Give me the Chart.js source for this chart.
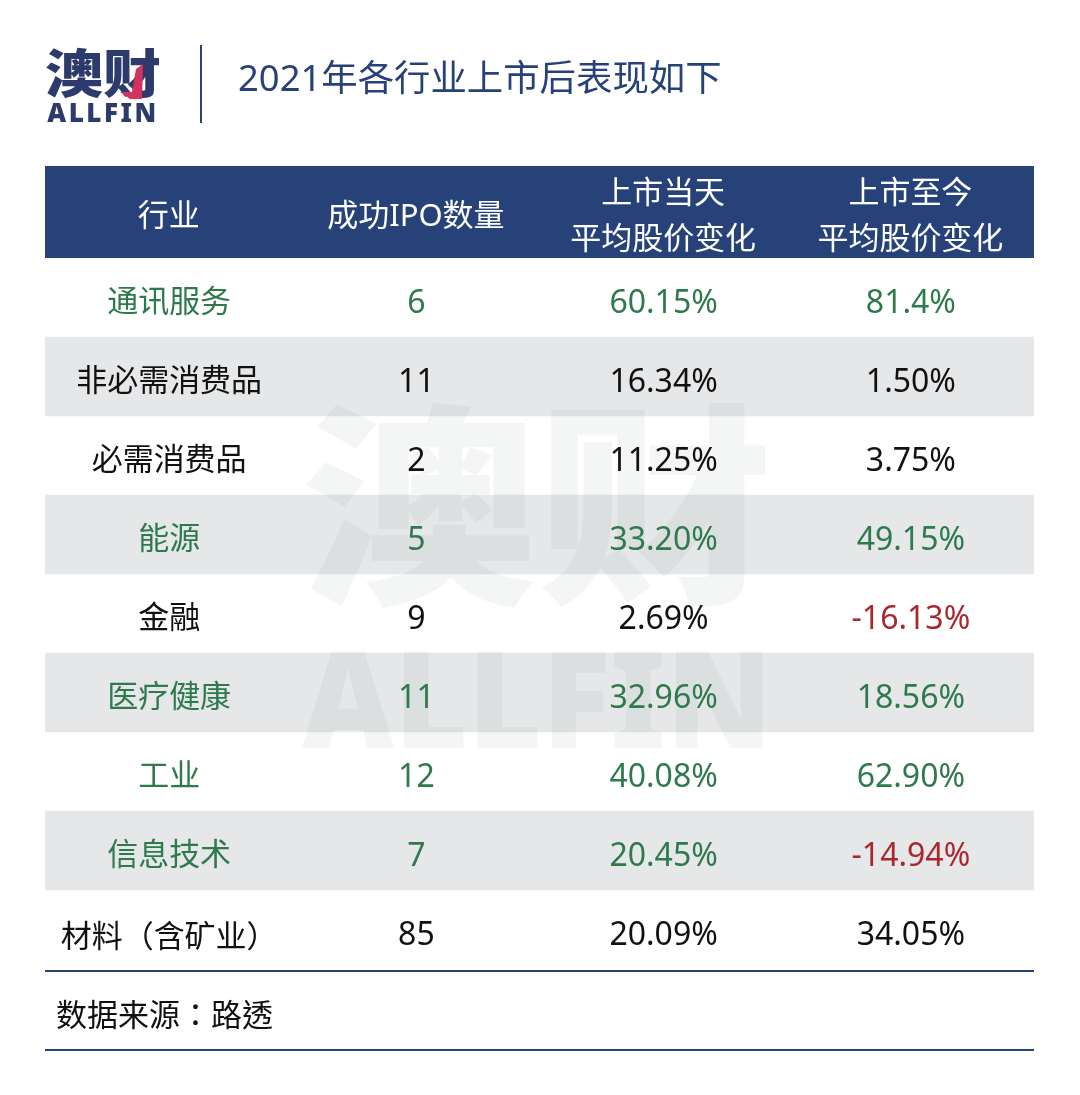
<!DOCTYPE html>
<html>
<head>
<meta charset="utf-8">
<script src="https://cdn.jsdelivr.net/npm/chart.js@4"></script>
<style>
    html, body { margin: 0; padding: 0; background: #fff; }
    canvas { display: block; }
</style>
</head>
<body>
<canvas id="ipoTable" width="1080" height="1095"></canvas>
<script>
// Table data
const industries = ['通讯服务', '非必需消费品', '必需消费品', '能源', '金融', '医疗健康', '工业', '信息技术', '材料（含矿业）'];
const ipoCounts = [6, 11, 2, 5, 9, 11, 12, 7, 85];
const firstDayChange = ['60.15', '16.34', '11.25', '33.20', '2.69', '32.96', '40.08', '20.45', '20.09'];
const toDateChange = ['81.4', '1.50', '3.75', '49.15', '-16.13', '18.56', '62.90', '-14.94', '34.05'];
const highlighted = ['通讯服务', '能源', '医疗健康', '工业', '信息技术'];
const columnLabels = ['行业', '成功IPO数量', ['上市当天', '平均股价变化'], ['上市至今', '平均股价变化']];
const chartTitle = '2021年各行业上市后表现如下';
const sourceNote = '数据来源：路透';

const FONT = '"Noto Sans", "Noto Sans CJK SC", sans-serif';
const CJK_FONT = '"Noto Sans CJK SC", sans-serif';
// TC centres full-width punctuation in its cell, as the reference does
const PUNCT_FONT = '"Noto Sans CJK TC", sans-serif';
const NAVY = '#264278';
const LOGO_NAVY = '#2d3a6c';
const GREEN = '#2f7a4c';
const RED = '#a8282f';
const HEADER_HEIGHT = 92;

function cellColor(row, col) {
    if (col === 3 && parseFloat(toDateChange[row]) < 0) return RED;
    return highlighted.includes(industries[row]) ? GREEN : '#111';
}

function drawText(ctx, text, x, y, font, color, align) {
    ctx.font = font;
    ctx.fillStyle = color;
    ctx.textAlign = align || 'center';
    ctx.textBaseline = 'middle';
    ctx.fillText(text, x, y);
}

// Same as drawText but squeezed or stretched around the anchor
function drawScaled(ctx, text, x, y, sx, sy, font, color) {
    ctx.save();
    ctx.translate(x, y);
    ctx.scale(sx, sy);
    drawText(ctx, text, 0, 0, font, color);
    ctx.restore();
}

const tablePlugin = {
    id: 'tablePlugin',
    beforeDraw(chart) {
        const { ctx, chartArea } = chart;
        ctx.save();
        // header band sits above the plot area, behind the top axis labels
        ctx.fillStyle = NAVY;
        ctx.fillRect(chartArea.left, chartArea.top - HEADER_HEIGHT, chartArea.width, HEADER_HEIGHT);

        // logo and title
        drawScaled(ctx, '澳财', 103, 73, 1, 0.9, `900 58px ${CJK_FONT}`, LOGO_NAVY);
        ctx.fillStyle = '#d2335f';
        ctx.beginPath();
        ctx.moveTo(143, 64);
        ctx.lineTo(142, 99);
        ctx.lineTo(130, 99);
        ctx.lineTo(120, 92);
        ctx.lineTo(132, 92);
        ctx.lineTo(136, 69);
        ctx.closePath();
        ctx.fill();
        ctx.letterSpacing = '2.5px';
        drawText(ctx, 'ALLFIN', 103, 115, `900 26px ${FONT}`, LOGO_NAVY);
        ctx.letterSpacing = '0px';
        ctx.fillStyle = NAVY;
        ctx.fillRect(200, 45, 2, 78);
        drawText(ctx, chartTitle, 238, 81, `36.4px ${FONT}`, NAVY, 'left');
        ctx.restore();
    },
    afterDatasetsDraw(chart) {
        const { ctx, chartArea, scales } = chart;
        ctx.save();
        // watermark
        const mark = 'rgba(50, 85, 70, 0.055)';
        drawScaled(ctx, '澳财', 537, 505, 1, 0.91, `900 236px ${CJK_FONT}`, mark);
        ctx.font = `900 135px ${FONT}`;
        ctx.fillStyle = mark;
        ctx.textAlign = 'center';
        ctx.textBaseline = 'middle';
        ctx.fillText('ALLFIN', 537, 710, 470);

        // cells
        industries.forEach((name, row) => {
            const y = scales.y.getPixelForValue(row) + 6;
            const cells = [name, String(ipoCounts[row]), firstDayChange[row] + '%', toDateChange[row] + '%'];
            cells.forEach((text, col) => {
                let font = `32px ${FONT}`;
                if (col === 0) font = `31px ${name.includes('（') ? PUNCT_FONT : FONT}`;
                drawText(ctx, text, scales.x.getPixelForValue(col) + 0.5, y, font, cellColor(row, col));
            });
        });

        // rules and source note
        ctx.fillStyle = NAVY;
        ctx.fillRect(chartArea.left, chartArea.bottom + 1, chartArea.width, 2);
        ctx.fillRect(chartArea.left, chartArea.bottom + 80, chartArea.width, 2);
        drawText(ctx, sourceNote, 56, chartArea.bottom + 45, `31px ${PUNCT_FONT}`, '#111', 'left');
        ctx.restore();
    }
};

new Chart(document.getElementById('ipoTable').getContext('2d'), {
    type: 'bar',
    data: {
        labels: industries,
        datasets: [{
            // alternate rows carry the grey band across all four columns
            data: industries.map((_, i) => (i % 2 ? [-0.5, 3.5] : null)),
            backgroundColor: '#e6e7e9',
            barPercentage: 1,
            categoryPercentage: 1,
            borderSkipped: false
        }]
    },
    options: {
        indexAxis: 'y',
        responsive: false,
        animation: false,
        devicePixelRatio: 1,
        layout: { padding: { top: 166, left: 45, right: 46, bottom: 126 } },
        plugins: { legend: { display: false }, title: { display: false }, tooltip: { enabled: false } },
        scales: {
            x: {
                type: 'linear',
                position: 'top',
                min: -0.5,
                max: 3.5,
                grid: { display: false },
                border: { display: false },
                afterFit(scale) { scale.height = HEADER_HEIGHT; },
                afterBuildTicks(scale) { scale.ticks = columnLabels.map((_, i) => ({ value: i })); },
                ticks: {
                    autoSkip: false,
                    maxRotation: 0,
                    padding: 10,
                    crossAlign: 'center',
                    color: '#fff',
                    font: { family: FONT, size: 31, lineHeight: 1.49 },
                    callback: value => columnLabels[value]
                }
            },
            y: { display: false, offset: true, grid: { display: false } }
        }
    },
    plugins: [tablePlugin]
});
</script>
</body>
</html>
